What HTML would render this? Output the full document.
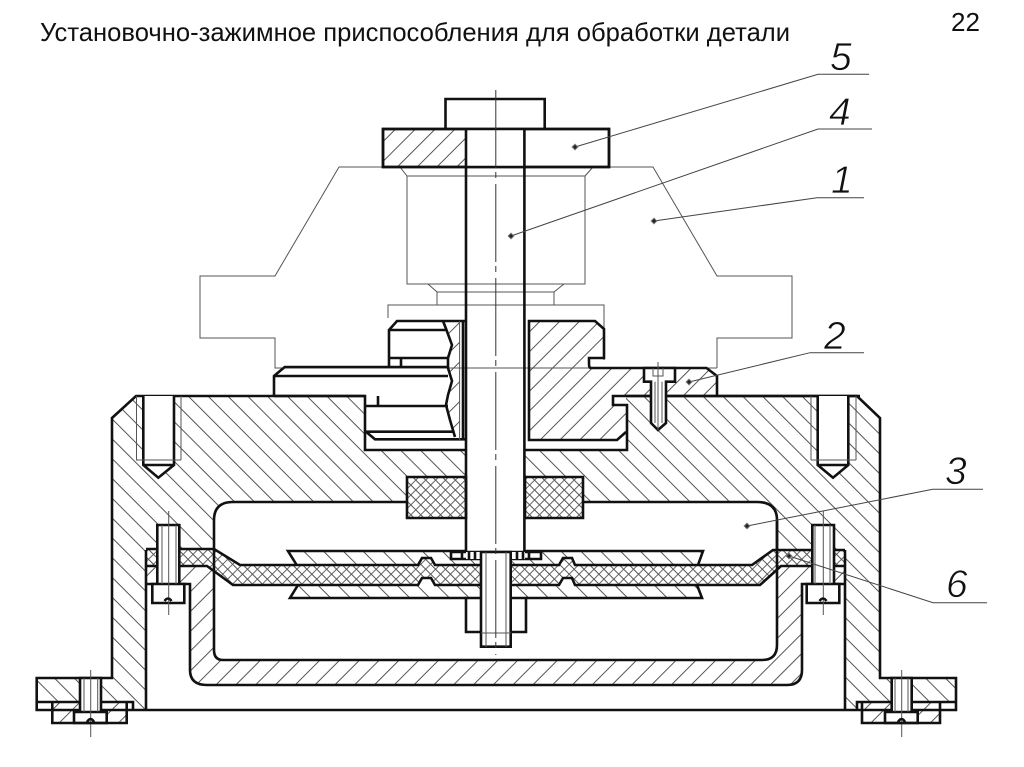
<!DOCTYPE html>
<html><head><meta charset="utf-8"><style>
html,body{margin:0;padding:0;background:#fff;width:1024px;height:767px;overflow:hidden}
svg{display:block}
.k{fill:none;stroke:#111;stroke-width:2.6;stroke-linejoin:miter}
.w{fill:#fff;stroke:#111;stroke-width:2.6}
.t{fill:none;stroke:#555;stroke-width:1}
.l{fill:none;stroke:#444;stroke-width:1}
.n{font-family:"Liberation Sans",sans-serif;font-style:italic;font-size:39px;fill:#111;stroke:#fff;stroke-width:0.7}
.d{fill:#222;stroke:#777;stroke-width:1}
</style></head><body>
<svg width="1024" height="767" viewBox="0 0 1024 767" xmlns="http://www.w3.org/2000/svg">
<defs>
<pattern id="f" width="14" height="14" patternUnits="userSpaceOnUse" patternTransform="rotate(45)"><line x1="7" y1="0" x2="7" y2="14" stroke="#555" stroke-width="1"/></pattern>
<pattern id="b" width="14" height="14" patternUnits="userSpaceOnUse" patternTransform="rotate(-45)"><line x1="7" y1="0" x2="7" y2="14" stroke="#555" stroke-width="1"/></pattern>
<pattern id="x" width="7" height="7" patternUnits="userSpaceOnUse" patternTransform="rotate(45)"><path d="M3.5 0V7M0 3.5H7" stroke="#555" stroke-width="0.9" fill="none"/></pattern>
</defs>
<rect width="1024" height="767" fill="#fff"/>
<text x="40" y="41" font-family="'Liberation Sans',sans-serif" font-size="25.6" fill="#111">Установочно-зажимное приспособления для обработки детали</text>
<text x="951" y="31" font-family="'Liberation Sans',sans-serif" font-size="26" fill="#111">22</text>

<!-- thin body 1 -->
<path class="t" d="M339 167H653L717 276H792V338H717V368M339 167L275 276H200V338H275V368H717"/>
<path class="t" d="M400 167L407 176V284H585V176L593 167M407 176H585M428 284L437 292V305M564 284L554 292V305M437 292H554M388 318V305H604V360"/>

<!-- hatched areas -->
<path fill="url(#b)" d="M136 396H365V450H466V477H407V502H233Q214 502 214 520V549L146 550V710H133V702H36.7V678H112V418Z"/>
<path fill="url(#b)" d="M626 396H857L880 418V678H956V702H857V710H845V550L777 549V520Q777 502 757 502H583V477H525V450H627Z"/>
<path fill="url(#f)" d="M529 321H595L604 329V358H591L589 361V367H706.5L717 376V396H613V405H626V432L617 440H529Z"/>
<path fill="url(#f)" d="M383 129H466V167H383ZM443 321H460V440H455L450 420 446 405 448 395 452 381 448 368 448 358 452 345 446.5 330Z"/>
<path fill="url(#f)" d="M146 566H207L214 572V650Q214 660 223 660H762Q777 660 777 645V570L781 566H845V584H802V670Q802 685 787 685H207Q190 685 190 670V584H146Z"/>
<path fill="url(#b)" d="M288 551H483V565H297ZM510 551H703L698 565H510ZM290 598L298 585H481V598ZM510 598V585H697L702 598Z"/>
<path fill="url(#f)" d="M52.3 702H126.7V723H106.7V712H74V723H52.3ZM862 702H940V723H917.7V712H885V723H862Z"/>
<path fill="url(#x)" d="M407 477H466V518H407ZM525 477H583V518H525Z"/>

<!-- membrane -->
<path fill="#fff" stroke="none" d="M146 549H214L240 565H418L422 558H431L435 565H559L563 558H572L575 565H752L773 550H845V566H781L760 585H575L572 578H563L559 585H435L431 578H422L418 585H233L207 566H146Z"/>
<path fill="url(#x)" d="M146 549H214L240 565H418L422 558H431L435 565H559L563 558H572L575 565H752L773 550H845V566H781L760 585H575L572 578H563L559 585H435L431 578H422L418 585H233L207 566H146Z"/>
<path class="k" d="M146 549H214L240 565H418L422 558H431L435 565H559L563 558H572L575 565H752L773 550H845M146 566H207L233 585H418L422 578H431L435 585H559L563 578H572L575 585H760L781 566H845"/>

<!-- housing outline -->
<path class="k" d="M365 396H136L112 418V678H36.7V710H146M146 710V550M214 549V520Q214 502 233 502H407M757 502Q777 502 777 520V549M583 502H757M626 396H857L880 418V678H956V710H845V550M146 710H845M36.7 702H133V710M857 710V702H956"/>
<path class="k" d="M274 396H365V450H466M525 450H627V405H613V396H717V376L706.5 368H591Q589 368 589 364V358H604V329L595 321H529V440H617L626 432"/>
<path class="k" d="M717 396H860"/>

<!-- left clamp -->
<path class="k" d="M274 396V376L284.7 367H448M274 376H448M389 358V330L397 321H466M389 330H447M389 358H448M389 358V367M401 358V367"/>
<path class="k" stroke-width="2" d="M443 321L446.5 330 452 345 448 358 448 368 452 381 448 395 446 405 450 420 455 437"/>
<path class="k" d="M365 406H448M378 396V406M366 431.7H453M366 431.7L375 439.3H466M463 321V440"/>
<path class="t" d="M459.6 321V440"/>
<path class="k" d="M407 477H466V518H407ZM525 477H583V518H525Z"/>

<!-- blind holes -->
<path fill="#fff" d="M143.3 396H174V465L158.3 477.7 143.3 465ZM817.7 396H848.3V465L833 477.7 817.7 465Z"/>
<path class="k" d="M143.3 396V465L158.3 477.7 174 465V396M143.3 465H174M817.7 396V465L833 477.7 848.3 465V396M817.7 465H848.3"/>
<path class="t" d="M136.5 396V460M181 396V460M136 460H181M811 396V460M856 396V460M811 460H856"/>

<!-- cup -->
<path class="k" d="M146 584H190V670Q190 685 207 685H787Q802 685 802 670V584H845M214 549V650Q214 660 223 660H762Q777 660 777 645V520"/>

<!-- toothed plates -->
<path class="k" d="M296.7 565L288 551H466M525 551H703L698 565M298 585L290 598H466M526 598H702L697 585"/>

<!-- top screw part 2 -->
<path class="w" d="M644 368H675V381.7H666V423L658 430 651 423V381.7H644Z"/>
<path class="t" d="M653 368V376H663V368M655 381.7V423M662 381.7V423M658 362V430"/>

<!-- shaft and head -->
<path class="w" d="M445.5 129V99H544.7V129"/>
<rect x="383" y="129" width="226" height="38" fill="none" stroke="#111" stroke-width="2.6"/>
<rect x="466" y="129" width="58.4" height="38" fill="#fff"/>
<path class="k" d="M383 129H609V167H383ZM466 129V551M524.4 129V551"/>

<!-- washer, nut, bolt -->
<path class="w" d="M451 552H541V559H451Z"/>
<rect x="466" y="552" width="59" height="7" fill="#fff"/>
<path class="k" d="M462 552V559M469 552V559M475 552V559M517 552V559M523 552V559M529 552V559"/>
<path class="w" d="M466 598H526V632H466Z"/>
<path class="w" d="M481 552H510.7V646.7H481Z"/>
<path class="t" d="M486 552V647M506 552V647M481 633H511"/>

<!-- flange bolts -->
<path class="w" d="M157.3 525H179.3V584H157.3ZM152.3 584H184.3V603H152.3Z"/>
<path class="t" d="M162 525V584M176 525V584M168.7 511V615"/>
<path class="w" d="M812.3 525H834V584H812.3ZM806.7 584H839.3V603H806.7Z"/>
<path class="t" d="M815 525V584M830 525V584M823.3 511V615"/>
<path class="k" stroke-width="3" d="M164.5 601Q168 596 171.5 601M819.5 601Q823 596 826.5 601"/>

<!-- lower flange bolts -->
<path class="w" d="M80 678H101V712H80ZM74 712H106.7V723H74Z"/>
<path class="t" d="M84 678V712M97.7 678V712M90.7 670V737"/>
<path class="w" d="M891.7 678H911.7V712H891.7ZM885 712H917.7V723H885Z"/>
<path class="t" d="M895 678V712M908 678V712M901.7 670V737"/>
<path class="k" d="M52.3 702V723H126.7V702M862 702V723H940V702"/>
<path class="k" stroke-width="3" d="M87 722Q90.7 716 94 722M898 722Q901.7 716 905 722"/>

<!-- centre line -->
<path stroke="#333" stroke-width="1" fill="none" stroke-dasharray="78 4 6 6" d="M495.8 90V655"/>

<!-- leaders -->
<path class="l" d="M575 147L818 74.3H869M511 236L818 129H872M654 221L817 197.7H864M689 382L810 352.7H864M747 526L932.7 489.3H983M789 556L933 602.7H987"/>
<g class="d">
<rect x="573" y="145" width="4" height="4" transform="rotate(45 575 147)"/>
<rect x="509" y="234" width="4" height="4" transform="rotate(45 511 236)"/>
<rect x="652" y="219" width="4" height="4" transform="rotate(45 654 221)"/>
<rect x="687" y="380" width="4" height="4" transform="rotate(45 689 382)"/>
<rect x="745" y="524" width="4" height="4" transform="rotate(45 747 526)"/>
<rect x="787" y="554" width="4" height="4" transform="rotate(45 789 556)"/>
</g>

<!-- numerals -->
<text class="n" x="830" y="70">5</text>
<text class="n" x="829" y="125">4</text>
<text class="n" x="831" y="193">1</text>
<text class="n" x="824" y="349">2</text>
<text class="n" x="945" y="484">3</text>
<text class="n" x="946" y="597">6</text>
</svg>
</body></html>
